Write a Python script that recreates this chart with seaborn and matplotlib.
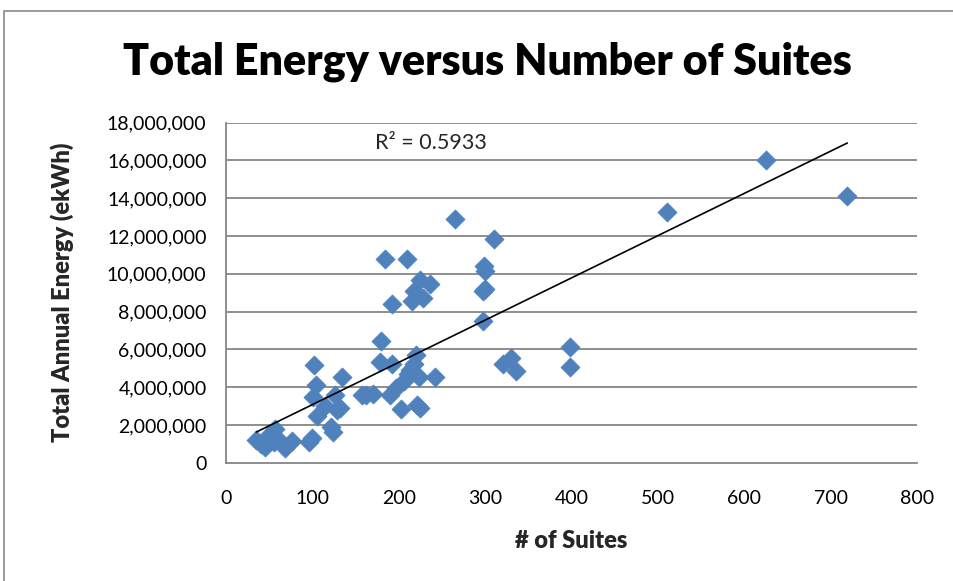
import matplotlib
matplotlib.use("Agg")
import matplotlib.pyplot as plt
import matplotlib.ticker as mticker
from matplotlib.patches import Rectangle
import seaborn as sns
import pandas as pd

suites = [35, 40, 45, 49, 55, 57, 60, 68, 76, 96, 99, 102, 101, 104, 105, 115,
          122, 124, 126, 128, 132, 134, 157, 162, 170, 178, 179, 184, 190, 192,
          192, 197, 203, 206, 210, 211, 213, 215, 217, 218, 220, 221, 223, 224,
          225, 228, 236, 242, 265, 297, 297, 300, 299, 300, 310, 321, 330, 336,
          398, 398, 510, 625, 719]
energy_m = [1.2, 1.0, 0.85, 1.4, 1.1, 1.8, 1.25, 0.8, 1.15, 1.1, 1.3, 5.15, 3.5,
            4.1, 2.45, 3.0, 1.9, 1.65, 3.6, 2.8, 2.9, 4.55, 3.6, 3.6, 3.65, 5.35,
            6.45, 10.8, 3.6, 5.25, 8.4, 3.95, 2.85, 4.3, 10.8, 4.7, 4.9, 8.55, 9.1,
            5.2, 5.7, 3.05, 4.55, 9.65, 2.9, 8.7, 9.45, 4.55, 12.9, 7.5, 9.1, 9.2,
            10.4, 10.15, 11.85, 5.25, 5.55, 4.85, 6.15, 5.05, 13.25, 16.0, 14.1]
energy = [v * 1e6 for v in energy_m]

title = "Total Energy versus Number of Suites"
xlabel = "# of Suites"
ylabel = "Total Annual Energy (ekWh)"
r2_text = "R² = 0.5933"

df = pd.DataFrame({"suites": suites, "energy": energy})

sns.set_style("white")
plt.rcParams["font.family"] = ["Lato", "DejaVu Sans"]

fig = plt.figure(figsize=(9.54, 5.81), dpi=100)
ax = fig.add_axes([226 / 954, 1 - 462.7 / 581, (917.3 - 226) / 954, (462.7 - 122.7) / 581])

grid_c = "#868686"
for v in range(2, 20, 2):
    ax.axhline(v * 1e6, color=grid_c, lw=1.3, zorder=0)

sns.scatterplot(data=df, x="suites", y="energy", ax=ax, marker="D", s=95,
                color="#4F81BD", edgecolor="#4F81BD", linewidth=0.5, zorder=3)
sns.regplot(data=df, x="suites", y="energy", ax=ax, scatter=False, ci=None,
            line_kws={"color": "black", "lw": 1.2, "zorder": 4})

ax.set_xlim(0, 800)
ax.set_ylim(0, 18e6)
ax.set_xticks(range(0, 801, 100))
ax.set_yticks([v * 1e6 for v in range(0, 19, 2)])
ax.yaxis.set_major_formatter(mticker.FuncFormatter(lambda v, p: f"{int(round(v)):,}"))
for s in ["top", "right"]:
    ax.spines[s].set_visible(False)
for s in ["left", "bottom"]:
    ax.spines[s].set_color(grid_c)
    ax.spines[s].set_linewidth(1.3)
ax.tick_params(axis="both", which="major", direction="out", length=6, width=1.3,
               color=grid_c, labelsize=14, labelcolor="black", pad=8)
ax.tick_params(axis="x", pad=14)

ax.set_xlabel(xlabel, fontsize=17, fontweight="heavy", labelpad=16)
ax.set_ylabel(ylabel, fontsize=17, fontweight="heavy", labelpad=24)

ax.text(172, 16.9e6, r2_text, fontsize=15.5, va="center", ha="left")

fig.text(487 / 954, 1 - 62 / 581, title, fontsize=31, fontweight="heavy",
         color="black", ha="center", va="center")

fig.patches.append(Rectangle((4.5 / 954, -0.1), 1.2, (581 - 10.5) / 581 + 0.1,
                             transform=fig.transFigure, fill=False,
                             edgecolor="#8a8a8a", lw=1.2))

fig.savefig("out.png", dpi=100)
